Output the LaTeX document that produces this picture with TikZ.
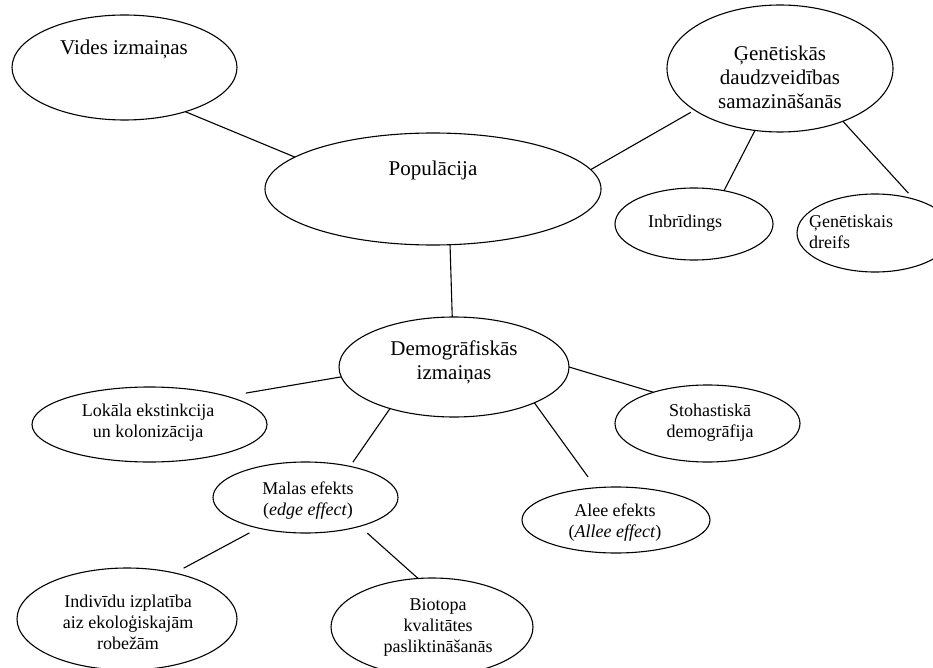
\documentclass[tikz,border=0pt]{standalone}
\usepackage{fontspec}
\setmainfont{Liberation Serif}
\usetikzlibrary{shapes.geometric}

\tikzset{
  bubble/.style={ellipse, draw, line width=1.1pt, inner sep=0pt, outer sep=0pt},
  bigtext/.style={font=\fontsize{21}{24}\selectfont, inner sep=0pt, align=center},
  smalltext/.style={font=\fontsize{18}{21}\selectfont, inner sep=0pt, align=center},
  link/.style={line width=1.1pt},
}

\begin{document}
\begin{tikzpicture}[x=1pt,y=-1pt]
\useasboundingbox (0,0) rectangle (933,668);
\clip (0,0) rectangle (933,668);

% ellipses
\node[bubble, minimum width=225pt, minimum height=105pt] (vides) at (124.5,67.5) {};
\node[bubble, minimum width=336pt, minimum height=112pt] (pop) at (433,189) {};
\node[bubble, minimum width=226pt, minimum height=127pt] (gen) at (780,68.5) {};
\node[bubble, minimum width=158pt, minimum height=72pt] (inbr) at (694,224) {};
\node[bubble, minimum width=156pt, minimum height=78pt] (dreif) at (875,233) {};
\node[bubble, minimum width=230pt, minimum height=100pt] (demo) at (454,367) {};
\node[bubble, minimum width=235pt, minimum height=75pt] (lok) at (149.5,424.5) {};
\node[bubble, minimum width=185pt, minimum height=77pt] (sto) at (707.5,423.5) {};
\node[bubble, minimum width=185pt, minimum height=71pt] (mal) at (305.5,497.5) {};
\node[bubble, minimum width=188pt, minimum height=66pt] (alee) at (616,520) {};
\node[bubble, minimum width=220pt, minimum height=102pt] (ind) at (127,619) {};
\node[bubble, minimum width=202pt, minimum height=98pt] (bio) at (432,627) {};

% labels
\node[bigtext, anchor=base] (t-vides) at (124,55) {Vides izmaiņas};
\node[bigtext, anchor=base] (t-pop) at (433,176) {Populācija};
\node[bigtext] (t-gen) at (780,77) {Ģenētiskās\\daudzveidības\\samazināšanās};
\node[smalltext, anchor=base] (t-inbr) at (685,227) {Inbrīdings};
\node[smalltext, align=left, anchor=west] (t-dreif) at (809,232) {Ģenētiskais\\dreifs};
\node[bigtext] (t-demo) at (454,362) {Demogrāfiskās\\izmaiņas};
\node[smalltext] (t-lok) at (148,423) {Lokāla ekstinkcija\\un kolonizācija};
\node[smalltext] (t-sto) at (710,423) {Stohastiskā\\demogrāfija};
\node[smalltext] (t-mal) at (308,501) {Malas efekts\\(\textit{edge effect})};
\node[smalltext] (t-alee) at (615,523) {Alee efekts\\(\textit{Allee effect})};
\node[smalltext] (t-ind) at (128,622) {Indivīdu izplatība\\aiz ekoloģiskajām\\robežām};
\node[smalltext] (t-bio) at (438,627) {Biotopa\\kvalitātes\\pasliktināšanās};

% connectors
\draw[link] (vides.-36.1) -- (pop.167.5);
\draw[link, shorten >=4.4pt] (pop.7.6) -- (gen.206.8);
\draw[link] (gen.248.3) -- (inbr.48.7);
\draw[link, shorten >=8.2pt] (gen.-40.3) -- (dreif.41.4);
\draw[link] (pop.-73.1) -- (demo.92.3);
\draw[link, shorten >=19.2pt] (demo.185) -- (lok.20.4);
\draw[link, shorten >=5pt] (demo.213.9) -- (mal.35.9);
\draw[link] (demo.0) -- (sto.150.4);
\draw[link, shorten >=13.3pt] (demo.-24.2) -- (alee.122);
\draw[link, shorten <=10.2pt, shorten >=10.2pt] (mal.213.5) -- (ind.44.6);
\draw[link, shorten <=10.2pt] (mal.-28.2) -- (bio.106);
\end{tikzpicture}
\end{document}
